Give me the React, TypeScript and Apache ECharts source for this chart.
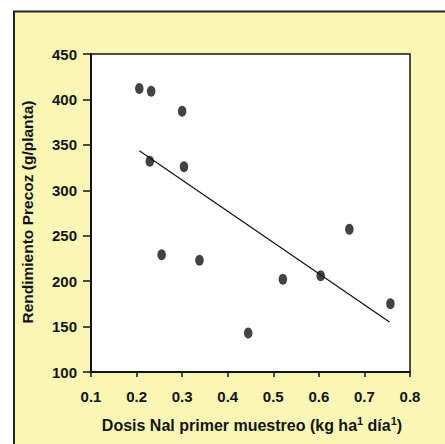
import React, { useEffect, useRef } from "react";
import * as echarts from "echarts";

// Dose (kg ha-1 día-1) and early yield (g/planta)
const doseValues = [0.206, 0.232, 0.3, 0.229, 0.304, 0.255, 0.338, 0.445, 0.521, 0.604, 0.667, 0.757];
const yieldValues = [412, 409, 387, 332, 326, 229, 223, 143, 202, 206, 257, 175];

// Fitted regression line end points
const trendX = [0.206, 0.755];
const trendY = [343.5, 155];

const xTicks = [0.1, 0.2, 0.3, 0.4, 0.5, 0.6, 0.7, 0.8];
const xTickLabels = ["0.1", "0.2", "0.3", "0.4", "0.5", "0.6", "0.7", "0.8"];
const yTicks = [100, 150, 200, 250, 300, 350, 400, 450];

const yTitle = "Rendimiento Precoz (g/planta)";
const xTitleParts = ["Dosis Nal primer muestreo (kg ha", "1", " día", "1", ")"];

const FONT = "'Liberation Sans', Arial, Helvetica, sans-serif";
const INK = "#141414";
const PAPER = "#FAF7B6";

export default function App() {
  const ref = useRef<HTMLDivElement>(null);

  useEffect(() => {
    if (!ref.current) return;
    const chart = echarts.init(ref.current, undefined, { renderer: "svg" });

    const points = doseValues.map((d, i) => [d, yieldValues[i]]);
    const trend = trendX.map((d, i) => [d, trendY[i]]);

    const xTitleRich =
      `{t|${xTitleParts[0]}}{s|${xTitleParts[1]}}{t|${xTitleParts[2]}}{s|${xTitleParts[3]}}{t|${xTitleParts[4]}}`;

    chart.setOption({
      animation: false,
      backgroundColor: "#ffffff",
      graphic: [
        {
          type: "rect",
          z: -10,
          silent: true,
          shape: { x: 14, y: 11.5, width: 460, height: 460 },
          style: { fill: PAPER, stroke: "#222", lineWidth: 2 },
        },
        {
          type: "text",
          x: 27,
          y: 212,
          rotation: Math.PI / 2,
          style: {
            text: yTitle,
            fill: INK,
            font: `bold 15.5px ${FONT}`,
            textAlign: "center",
            textVerticalAlign: "middle",
          },
        },
        {
          type: "text",
          x: 252,
          y: 424,
          style: {
            text: xTitleRich,
            textAlign: "center",
            textVerticalAlign: "middle",
            rich: {
              t: {
                fontFamily: FONT,
                fontWeight: "bold",
                fontSize: 16,
                fill: INK,
                lineHeight: 18,
                verticalAlign: "bottom",
              },
              s: {
                fontFamily: FONT,
                fontWeight: "bold",
                fontSize: 11,
                fill: INK,
                lineHeight: 12,
                verticalAlign: "top",
              },
            },
          },
        },
      ],
      grid: {
        left: 91,
        top: 54,
        width: 319,
        height: 318,
        show: true,
        backgroundColor: "#ffffff",
        borderColor: INK,
        borderWidth: 1.5,
      },
      xAxis: {
        type: "value",
        min: 0.1,
        max: 0.8,
        interval: 0.1,
        splitLine: { show: false },
        axisLine: { show: true, onZero: false, lineStyle: { color: INK, width: 2 } },
        axisTick: {
          show: true,
          inside: false,
          length: 5,
          customValues: xTicks,
          lineStyle: { color: INK, width: 1.5 },
        },
        axisLabel: {
          customValues: xTicks,
          formatter: (v: number) => xTickLabels[xTicks.findIndex((t) => Math.abs(t - v) < 1e-6)] ?? "",
          margin: 17,
          color: INK,
          fontFamily: FONT,
          fontWeight: "bold",
          fontSize: 15,
        },
      },
      yAxis: {
        type: "value",
        min: 100,
        max: 450,
        interval: 50,
        splitLine: { show: false },
        axisLine: { show: true, onZero: false, lineStyle: { color: INK, width: 2 } },
        axisTick: {
          show: true,
          inside: false,
          length: 8,
          customValues: yTicks,
          lineStyle: { color: INK, width: 1.5 },
        },
        axisLabel: {
          customValues: yTicks,
          margin: 14,
          color: INK,
          fontFamily: FONT,
          fontWeight: "bold",
          fontSize: 15,
        },
      },
      series: [
        {
          type: "line",
          data: trend,
          showSymbol: false,
          symbol: "none",
          lineStyle: { color: INK, width: 1.3 },
          silent: true,
          z: 2,
        },
        {
          type: "scatter",
          data: points,
          symbol: "circle",
          symbolSize: [8.5, 11],
          itemStyle: { color: INK },
          z: 3,
        },
      ],
    });

    return () => chart.dispose();
  }, []);

  return (
    <div
      ref={ref}
      style={{ position: "fixed", left: 0, top: 0, width: 445, height: 444 }}
    />
  );
}
